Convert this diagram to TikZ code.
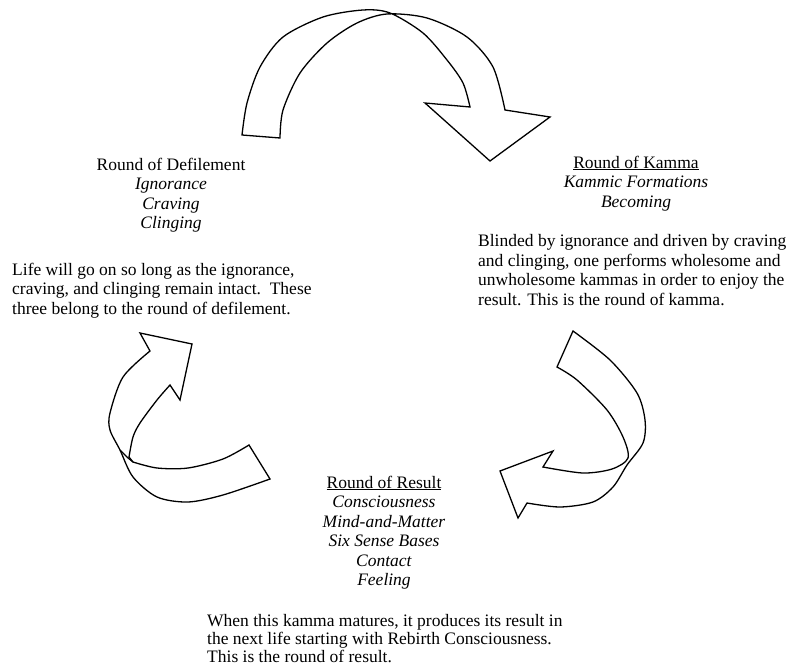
\documentclass[tikz,border=0pt]{standalone}
\usepackage{fontspec}
\setmainfont{Liberation Serif}

\tikzset{
  ribbon/.style={line width=1.3pt,line join=miter},
  heading/.style={align=center,inner sep=0pt,anchor=north,font=\fontsize{17.5}{19.5}\selectfont},
  bodytext/.style={align=left,inner sep=0pt,anchor=north west,font=\fontsize{17.5}{19.5}\selectfont}
}

\begin{document}
\begin{tikzpicture}[x=1pt,y=-1pt]
\useasboundingbox (0,0) rectangle (789,668);

% Top arrow
\draw[ribbon] (280,138) -- (242,135)
  -- plot[smooth] coordinates {(242,135) (247,103) (260,67) (283,37) (323,17) (363,10) (390,13) (423,33) (447,60) (463,83) (470,107)}
  -- (425,103) -- (490,161) -- (550,117) -- (505,110)
  -- plot[smooth] coordinates {(505,110) (493,67) (467,37) (427,18) (387,14) (357,23) (327,43) (300,73) (283,110) (280,138)}
  -- cycle;

% Right arrow
\draw[ribbon] (573,331) -- (557,367)
  -- plot[smooth] coordinates {(557,367) (577,380) (607,410) (623,437) (628,458) (612,469) (583,473) (543,467)}
  -- (553,451) -- (500,471) -- (518,518) -- (527,503)
  -- plot[smooth] coordinates {(527,503) (560,507) (593,502) (613,487) (627,465) (643,443) (645,420) (637,393) (610,360) (573,331)}
  -- cycle;

% Left arrow
\draw[ribbon] (249,445) -- (270,479)
  -- plot[smooth] coordinates {(270,479) (223,495) (188,502) (157,497) (133,477) (120,450) (110,430) (110,413) (123,377) (150,351)}
  -- (140,333) -- (192,344) -- (180,400) -- (170,385)
  -- plot[smooth] coordinates {(170,385) (157,400) (140,423) (133,437) (129,457)}
  -- plot[smooth] coordinates {(133,462) (157,468) (188,468) (223,459) (249,445)}
  -- cycle;
\draw[ribbon] plot[smooth] coordinates {(120,450) (127,457) (133,462)};

% Round of Defilement
\node[heading] (defilement) at (171,157.5) {Round of Defilement\\\textit{Ignorance}\\\textit{Craving}\\\textit{Clinging}};
\node[bodytext] (defiltext) at (12,262.5) {Life will go on so long as the ignorance,\\craving, and clinging remain intact.\ \ These\\three belong to the round of defilement.};

% Round of Kamma
\node[heading] (kamma) at (636,155.5) {\underline{Round of Kamma}\\\textit{Kammic Formations}\\\textit{Becoming}};
\node[bodytext] (kammatext) at (478,234.5) {Blinded by ignorance and driven by craving\\and clinging, one performs wholesome and\\unwholesome kammas in order to enjoy the\\result. This is the round of kamma.};

% Round of Result
\node[heading] (result) at (384,475.5) {\underline{Round of Result}\\\textit{Consciousness}\\\textit{Mind-and-Matter}\\\textit{Six Sense Bases}\\\textit{Contact}\\\textit{Feeling}};
\node[bodytext,font=\fontsize{17.5}{18}\selectfont] (resulttext) at (207,614.5) {When this kamma matures, it produces its result in\\the next life starting with Rebirth Consciousness.\\This is the round of result.};

\end{tikzpicture}
\end{document}
